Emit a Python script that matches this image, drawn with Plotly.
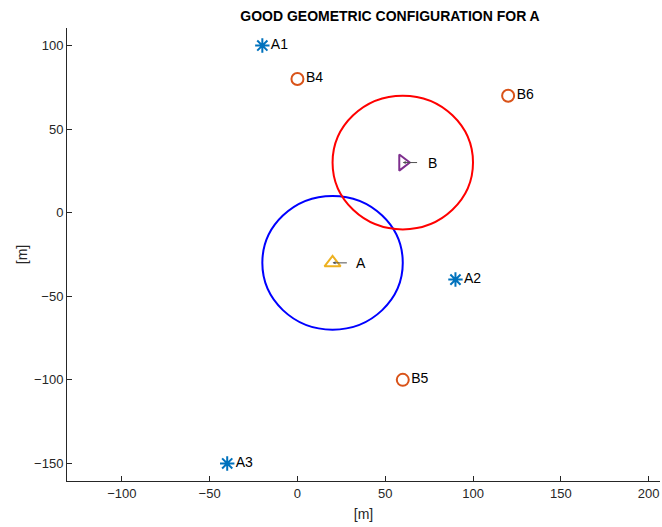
import plotly.graph_objects as go

# Anchors
anc_names = ["A1", "A2", "A3"]
anc_x = [-20, 90, -40]
anc_y = [100, -40, -150]
# Beacons
bea_names = ["B4", "B5", "B6"]
bea_x = [0, 60, 120]
bea_y = [80, -100, 70]
# Targets
tgt_names = ["A", "B"]
tgt_x = [20, 60]
tgt_y = [-30, 30]
tgt_symbols = ["triangle-up-open", "triangle-right-open"]
tgt_colors = ["#EDB120", "#7E2F8E"]
circle_colors = ["blue", "red"]
radius = [40, 40]
arrow_len = [9, 9]
label_dx = [12, 13]

fig = go.Figure()

for cx, cy, r, c in zip(tgt_x, tgt_y, radius, circle_colors):
    fig.add_shape(type="circle", xref="x", yref="y", x0=cx - r, x1=cx + r, y0=cy - r, y1=cy + r,
                  line=dict(color=c, width=2))

fig.add_trace(go.Scatter(x=anc_x, y=anc_y, mode="markers+text", text=anc_names,
                         textposition="middle right",
                         marker=dict(symbol="asterisk-open", size=12, color="#0072BD",
                                     line=dict(color="#0072BD", width=2)),
                         textfont=dict(size=14, color="black"), showlegend=False))
fig.add_trace(go.Scatter(x=bea_x, y=bea_y, mode="markers+text", text=bea_names,
                         textposition="middle right",
                         marker=dict(symbol="circle-open", size=12, color="#D95319",
                                     line=dict(color="#D95319", width=2)),
                         textfont=dict(size=14, color="black"), showlegend=False))
for x, y, s, c in zip(tgt_x, tgt_y, tgt_symbols, tgt_colors):
    fig.add_trace(go.Scatter(x=[x], y=[y], mode="markers",
                             marker=dict(symbol=s, size=14, color=c, line=dict(color=c, width=2)),
                             showlegend=False))
for x, y, n, L, dx in zip(tgt_x, tgt_y, tgt_names, arrow_len, label_dx):
    fig.add_annotation(x=x, y=y, ax=x + L, ay=y, xref="x", yref="y", axref="x", ayref="y",
                       showarrow=True, arrowhead=2, arrowsize=0.6, arrowwidth=1,
                       arrowcolor="#505050", text="")
    fig.add_annotation(x=x + dx, y=y, text=n, showarrow=False, xanchor="left",
                       font=dict(size=14, color="black"))

axis_common = dict(showgrid=False, zeroline=False, showline=True, linecolor="#262626",
                   linewidth=1, ticks="inside", ticklen=5, tickcolor="#262626",
                   tickfont=dict(size=13, color="#262626"), mirror=False, automargin=False)
fig.update_xaxes(range=[-131.25, 206.5], tickvals=[-100, -50, 0, 50, 100, 150, 200],
                 title=dict(text="[m]", font=dict(size=14, color="#262626"), standoff=9),
                 **axis_common)
fig.update_yaxes(range=[-160.5, 110.5], tickvals=[-150, -100, -50, 0, 50, 100],
                 title=dict(text="[m]", font=dict(size=14, color="#262626"), standoff=3),
                 **axis_common)

fig.update_layout(width=662, height=527, margin=dict(l=67, r=2, t=28, b=46),
                  plot_bgcolor="white", paper_bgcolor="white",
                  font=dict(family="Liberation Sans, Arial, sans-serif"),
                  title=dict(text="<b>GOOD GEOMETRIC CONFIGURATION FOR A</b>",
                             xref="container", x=390 / 662, xanchor="center",
                             yref="container", y=1 - 16 / 527, yanchor="middle",
                             font=dict(size=14, color="black")))

fig.write_html("out.html", config={"displayModeBar": False},
               post_script="document.body.style.margin='0';document.body.style.overflow='hidden';")
